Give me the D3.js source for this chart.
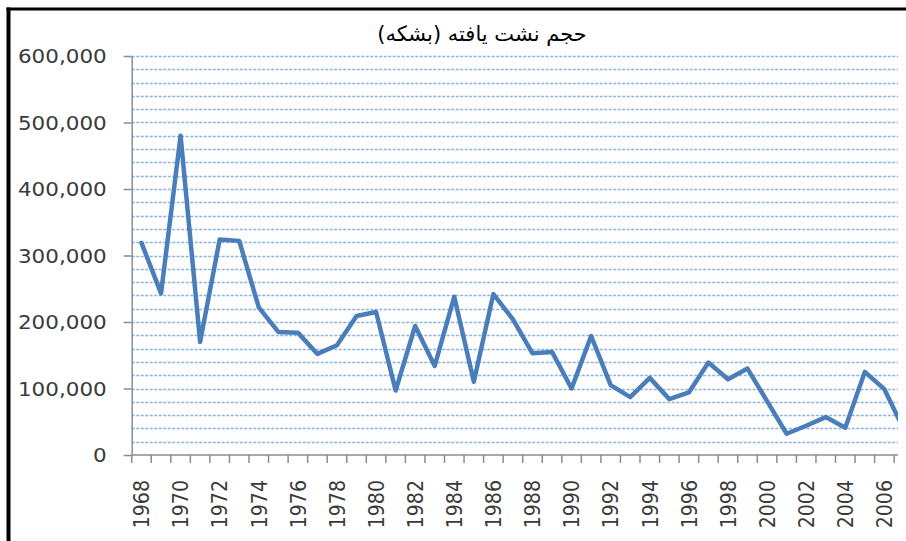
<!DOCTYPE html>
<html>
<head>
<meta charset="utf-8">
<script src="https://cdn.jsdelivr.net/npm/d3@7/dist/d3.min.js"></script>
<style>
  body { margin: 0; background: #fff; }
  svg { display: block; }
  text { font-family: "DejaVu Sans", sans-serif; }
</style>
</head>
<body>
<svg class="chart" width="906" height="541"></svg>
<script>
// spilled volume per year (barrels)
let years = [1968, 1969, 1970, 1971, 1972, 1973, 1974, 1975, 1976, 1977,
             1978, 1979, 1980, 1981, 1982, 1983, 1984, 1985, 1986, 1987,
             1988, 1989, 1990, 1991, 1992, 1993, 1994, 1995, 1996, 1997,
             1998, 1999, 2000, 2001, 2002, 2003, 2004, 2005, 2006, 2007];
let spills = [319000, 243000, 480000, 170000, 324000, 322000, 222000, 185000, 184000, 152000,
              165000, 209000, 215000, 97000, 194000, 134000, 238000, 110000, 242000, 204000,
              153000, 155000, 100000, 179000, 105000, 87000, 116000, 84000, 94000, 139000,
              114000, 130000, 81000, 32000, 44000, 57000, 41000, 125000, 99000, 38000];
let yTicks = [0, 100000, 200000, 300000, 400000, 500000, 600000];
let xLabels = years.filter((d, i) => i % 2 === 0);
let title = 'حجم نشت یافته (بشکه)';

let margin = { top: 56, left: 131.7, bottom: 455 };
let step = 19.55;
let textColor = '#3a3a3a';
let axisColor = '#8c8c8c';
let stretch = 1.13;   // the picture is a bit wide, so the text is too

let svg = d3.select('.chart');

svg.append('clipPath')
    .attr('id', 'cut')
  .append('rect')
    .attr('x', 0).attr('y', 0)
    .attr('width', 898).attr('height', 530);

let chart = svg.append('g').attr('clip-path', 'url(#cut)');

let x = d3.scaleBand()
    .domain(years)
    .range([margin.left, margin.left + step * years.length]);

let y = d3.scaleLinear()
    .domain([0, 600000])
    .range([margin.bottom, margin.top]);

// dashed gridlines every 20,000
chart.append('g')
  .selectAll('line')
  .data(y.ticks(30).filter(d => d > 0))
  .enter().append('line')
    .attr('x1', margin.left)
    .attr('x2', margin.left + step * years.length)
    .attr('y1', d => Math.round(y(d)) + 0.5)
    .attr('y2', d => Math.round(y(d)) + 0.5)
    .attr('stroke', '#8db3e2')
    .attr('stroke-width', 1.3)
    .attr('stroke-dasharray', '3,1.5');

// y axis
let yAxis = d3.axisLeft(y)
    .tickValues(yTicks)
    .tickSize(8)
    .tickSizeOuter(0)
    .tickFormat(d3.format(','));

let yg = chart.append('g')
    .attr('transform', 'translate(' + margin.left + ',0)')
    .call(yAxis);
yg.select('.domain').attr('stroke', axisColor).attr('stroke-width', 1.5);
yg.selectAll('.tick line').attr('stroke', axisColor).attr('stroke-width', 1.5);
yg.selectAll('.tick text')
    .attr('x', 0)
    .attr('dy', '0.36em')
    .attr('transform', 'translate(-25,0) scale(' + stretch + ',1)')
    .attr('fill', textColor)
    .style('font-size', '19px')
    .style('font-family', '"DejaVu Sans", sans-serif');

// x axis: Excel style ticks on the category edges
let xg = chart.append('g');
xg.append('line')
    .attr('x1', margin.left)
    .attr('x2', margin.left + step * years.length)
    .attr('y1', y(0)).attr('y2', y(0))
    .attr('stroke', axisColor)
    .attr('stroke-width', 1.5);

xg.selectAll('.xtick')
    .data(years)
  .enter().append('line')
    .attr('class', 'xtick')
    .attr('x1', d => x(d)).attr('x2', d => x(d))
    .attr('y1', y(0)).attr('y2', y(0) + 8)
    .attr('stroke', axisColor)
    .attr('stroke-width', 1.5);

xg.selectAll('.xlabel')
    .data(xLabels)
  .enter().append('text')
    .attr('class', 'xlabel')
    .attr('text-anchor', 'end')
    .attr('dy', '0.36em')
    .attr('transform', d => 'translate(' + (x(d) + x.bandwidth() / 2) + ',' + (y(0) + 25) + ') scale(' + stretch + ',1) rotate(-90)')
    .attr('fill', textColor)
    .style('font-size', '19px')
    .text(d => d);

// the series
let line = d3.line()
    .x((d, i) => x(years[i]) + x.bandwidth() / 2)
    .y(d => y(d));

chart.append('path')
    .datum(spills)
    .attr('d', line)
    .attr('fill', 'none')
    .attr('stroke', '#4a7ebb')
    .attr('stroke-width', 4.5)
    .attr('stroke-linejoin', 'round')
    .attr('stroke-linecap', 'round');

// title
chart.append('text')
    .attr('x', 482)
    .attr('y', 41)
    .attr('text-anchor', 'middle')
    .attr('direction', 'rtl')
    .attr('fill', '#000')
    .style('font-size', '21px')
    .text(title);

// frame of the cropped picture
svg.append('line')
    .attr('x1', 8.5).attr('x2', 8.5)
    .attr('y1', 7.5).attr('y2', 541)
    .attr('stroke', '#000').attr('stroke-width', 4);
svg.append('line')
    .attr('x1', 6.5).attr('x2', 906)
    .attr('y1', 9).attr('y2', 9)
    .attr('stroke', '#000').attr('stroke-width', 3);
</script>
</body>
</html>
